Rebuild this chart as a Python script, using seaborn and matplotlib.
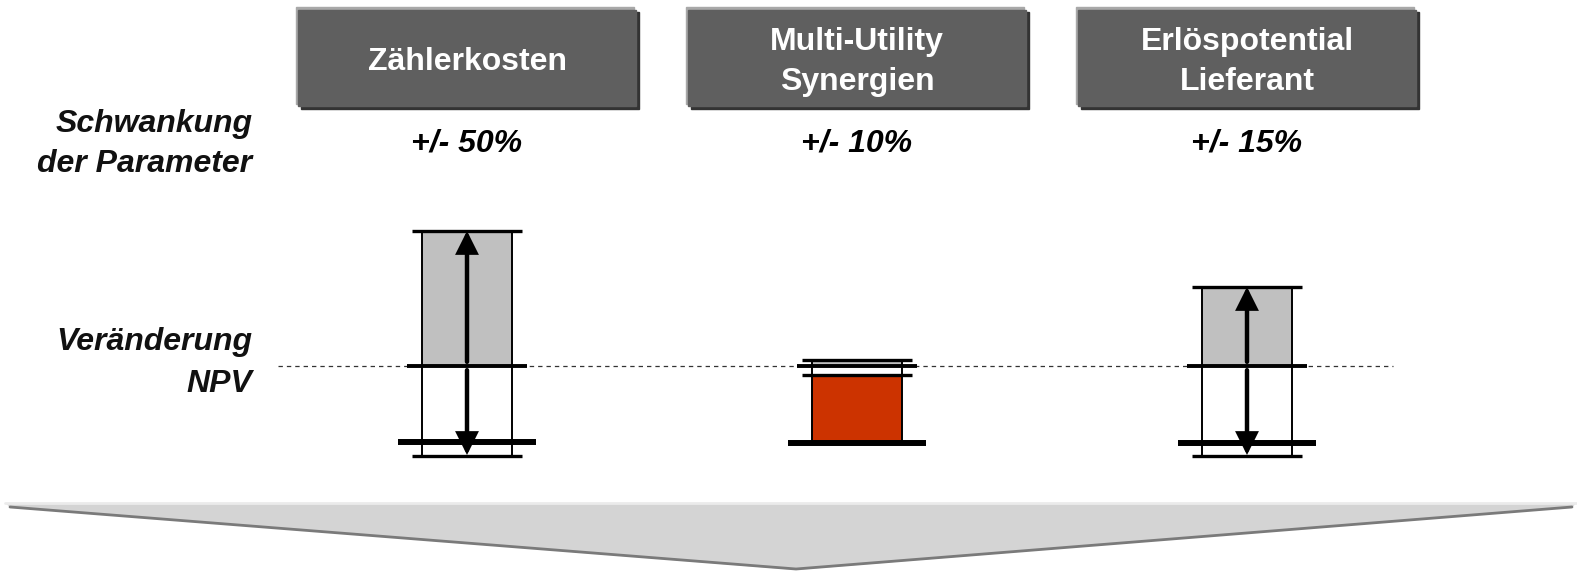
import numpy as np
import pandas as pd
import seaborn as sns
import matplotlib.pyplot as plt
from matplotlib.patches import Rectangle, Polygon

# Daten
parameter = ["Zählerkosten", "Multi-Utility\nSynergien", "Erlöspotential\nLieferant"]
schwankung = ["+/- 50%", "+/- 10%", "+/- 15%"]
npv_oben = [13.5, 0.6, 7.9]          # obere Grenze NPV-Veränderung
npv_unten = [-9.0, -0.9, -9.0]       # untere Grenze (dünne Linie)
npv_linie = [-7.6, -7.7, -7.7]       # dicke Linie unten
rot_bis = [np.nan, -7.7, np.nan]     # roter Block (nur Multi-Utility)
pfeile = [True, False, True]

sns.set_theme(style="white")
plt.rcParams['font.family'] = ['Liberation Sans', 'DejaVu Sans']

fig = plt.figure(figsize=(15.77, 5.71), dpi=100)
ax = fig.add_axes([0, 0, 1, 1])

df = pd.DataFrame({"Parameter": parameter, "oben": npv_oben, "unten": npv_unten})
bw = 0.233
sns.barplot(data=df, x="Parameter", y="oben", color="#c0c0c0", saturation=1,
            width=bw, edgecolor="black", linewidth=1.4, errorbar=None, ax=ax, zorder=2)
sns.barplot(data=df, x="Parameter", y="unten", color="white", saturation=1,
            width=bw, edgecolor="black", linewidth=1.4, errorbar=None, ax=ax, zorder=2)

xs = np.arange(len(parameter))
rot = np.array(rot_bis) - np.array(npv_unten)
ax.bar(xs, rot, bottom=npv_unten, width=bw, color="#cc3300", edgecolor="black",
       linewidth=1.4, zorder=2)

# Nulllinie gestrichelt
ax.hlines(0, -0.485, 2.374, colors="#333333", linewidth=0.9, linestyles=(0, (3.5, 3.2)), zorder=1)

# horizontale Linien
ax.hlines(npv_oben, xs - 0.141, xs + 0.141, colors="black", linewidth=2.4, zorder=3)
ax.hlines(np.zeros(3), xs - 0.155, xs + 0.155, colors="black", linewidth=2.8, zorder=3)
ax.hlines(npv_linie, xs - 0.177, xs + 0.177, colors="black", linewidth=4.3, zorder=3)
ax.hlines(npv_unten, xs - 0.141, xs + 0.141, colors="black", linewidth=2.4, zorder=3)

for i in xs:
    if pfeile[i]:
        for ziel in (npv_oben[i], npv_unten[i] + 0.1):
            ax.annotate("", xy=(i, ziel), xytext=(i, 0.0),
                        arrowprops=dict(arrowstyle="-|>", color="black", lw=3.2,
                                        mutation_scale=30, shrinkA=3, shrinkB=0,
                                        joinstyle="miter"),
                        zorder=4)

# Kopfzeilen
hw = 0.4333
for i, name in enumerate(parameter):
    ax.add_patch(Rectangle((i - hw + 0.0077, 25.75), 2 * hw, 9.6, color="#333333", zorder=1))
    ax.add_patch(Rectangle((i - hw - 0.005, 26.25), 2 * hw, 9.6, color="#a8a8a8", zorder=1))
    ax.add_patch(Rectangle((i - hw, 26.05), 2 * hw, 9.6, color="#5f5f5f", zorder=2))
    ax.text(i, 30.4, name, ha="center", va="center", color="white", fontsize=23,
            fontweight="bold", linespacing=1.42, zorder=3)
    ax.text(i, 22.2, schwankung[i], ha="center", va="center", color="black", fontsize=23,
            fontweight="bold", fontstyle="italic")

ax.text(-0.551, 22.2, "Schwankung\nder Parameter", ha="right", va="center", fontsize=23,
        fontweight="bold", fontstyle="italic", linespacing=1.42, color="#111111")
ax.text(-0.551, 0.3, "Veränderung\nNPV", ha="right", va="center", fontsize=23,
        fontweight="bold", fontstyle="italic", linespacing=1.55, color="#111111")

ax.set_xlim(-467 / 390, (1577 - 467) / 390)
ax.set_ylim(-20.5, 36.6)
ax.axis("off")

# Pfeil unten
W, H = 1577, 571
def fp(x, y):
    return (x / W, 1 - y / H)

fig.patches.append(Polygon([fp(5, 503), fp(1577, 503), fp(1572, 507), fp(796, 570), fp(10, 507)],
                           closed=True, facecolor="#d4d4d4", edgecolor="none",
                           transform=fig.transFigure, figure=fig))
fig.lines.append(plt.Line2D([10 / W, 796 / W, 1572 / W], [1 - 507 / H, 1 - 569 / H, 1 - 507 / H],
                            color="#7a7a7a", linewidth=2, transform=fig.transFigure, figure=fig))
fig.lines.append(plt.Line2D([5 / W, 1577 / W], [1 - 503 / H, 1 - 503 / H],
                            color="#ebebeb", linewidth=2, transform=fig.transFigure, figure=fig))

fig.savefig("out.png", dpi=100)
